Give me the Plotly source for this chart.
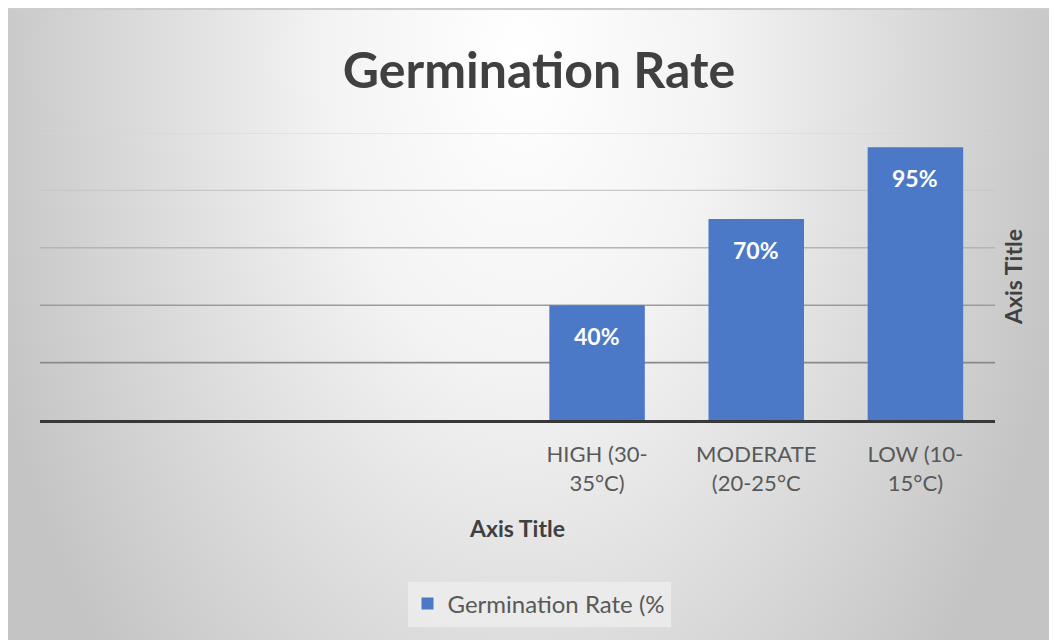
import base64
import plotly.graph_objects as go

# ---- data ----
categories = ["HIGH (30-<br>35°C)", "MODERATE<br>(20-25°C", "LOW (10-<br>15°C)"]
rates = [40, 70, 95]
rate_labels = ["40%", "70%", "95%"]
series_name = "Germination Rate (%"
y_ticks = [20, 40, 60, 80, 100]

# ---- styles ----
grid_colors = ["#8a8a8a", "#9c9c9c", "#b4b4b4", "#c8c8c8", "#d6d6d6"]
grid_widths = [1.6, 1.6, 1.4, 1.2, 1.2]
bar_color = "#4b79c8"
FONT = "Lato, 'Open Sans', sans-serif"

OFF = 8  # page body margin
W, H = 1057 - OFF, 640 - OFF
L, T = 40 - OFF, 133 - OFF
R, B = W - (995 - OFF), H - (420 - OFF)
pw, ph = W - L - R, H - T - B


def px_x(xr):  # reference pixel -> paper x
    return (xr - OFF - L) / pw


def px_y(yr):  # reference pixel -> paper y
    return (H - B - (yr - OFF)) / ph


svg = f"""<svg xmlns='http://www.w3.org/2000/svg' width='{W}' height='{H}'>
<defs><radialGradient id='g' gradientUnits='userSpaceOnUse' cx='{W*0.49}' cy='{H*0.08}' r='560'
gradientTransform='translate({W*0.49} {H*0.08}) scale(1 1.6) translate({-W*0.49} {-H*0.08})'>
<stop offset='0' stop-color='#ffffff'/><stop offset='0.35' stop-color='#f3f3f3'/>
<stop offset='1' stop-color='#c4c4c4'/></radialGradient></defs>
<rect x='0' y='0' width='{W}' height='{H}' fill='url(#g)'/>
<line x1='0' y1='1' x2='{W}' y2='1' stroke='#cdcdcd' stroke-width='2'/>
</svg>"""
src = "data:image/svg+xml;base64," + base64.b64encode(svg.encode()).decode()

fig = go.Figure()
fig.add_trace(go.Bar(
    x=categories, y=rates, name=series_name,
    marker=dict(color=bar_color, line=dict(width=0)),
    showlegend=True,
))

for v, c, w in zip(y_ticks, grid_colors, grid_widths):
    fig.add_shape(type="line", xref="paper", x0=0, x1=1, yref="y", y0=v, y1=v,
                  line=dict(color=c, width=w), layer="below")

for cat, val, lab in zip(categories, rates, rate_labels):
    fig.add_annotation(x=cat, y=val, text=f"<b>{lab}</b>", showarrow=False,
                       yshift=-31, font=dict(family=FONT, size=23, color="white"))

fig.update_layout(
    width=W, height=H,
    margin=dict(l=L, r=R, t=T, b=B, autoexpand=False),
    paper_bgcolor="#d0d0d0", plot_bgcolor="rgba(0,0,0,0)",
    images=[dict(source=src, xref="paper", yref="paper",
                 x=-L / pw, y=(H - B) / ph,
                 sizex=W / pw, sizey=H / ph, sizing="stretch",
                 xanchor="left", yanchor="top", layer="below")],
    title=dict(text="<b>Germination Rate</b>", x=(539 - OFF) / W, xanchor="center",
               y=1 - (70 - OFF) / H, yanchor="middle",
               font=dict(family=FONT, size=50, color="#404040")),
    bargap=0.4,
    showlegend=True,
    legend=dict(orientation="h", x=px_x(539), xanchor="center",
                y=px_y(604), yanchor="middle",
                bgcolor="rgba(238,238,238,0.8)", borderwidth=0,
                font=dict(family=FONT, size=24, color="#595959")),
    xaxis=dict(type="category", range=[-3.5, 2.5], showgrid=False, zeroline=False,
               showline=True, linecolor="#383838", linewidth=3, layer="above traces",
               ticks="", ticklabelstandoff=13,
               tickfont=dict(family=FONT, size=22, color="#595959"),
               title=dict(text="<b>Axis Title</b>", standoff=26,
                          font=dict(family=FONT, size=23, color="#404040"))),
    yaxis=dict(range=[0, 100], side="right", showgrid=False, zeroline=False,
               showline=False, showticklabels=False, ticks="",
               title=dict(text="<b>Axis Title</b>", standoff=10,
                          font=dict(family=FONT, size=23, color="#404040"))),
)

fig.write_html("out.html")
